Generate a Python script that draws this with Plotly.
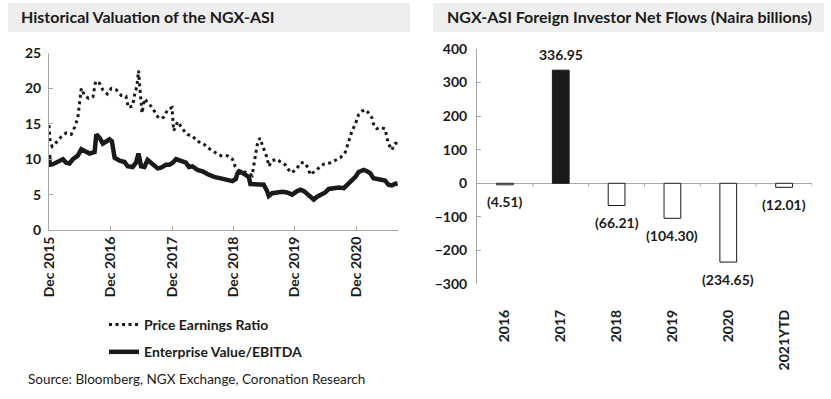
import plotly.graph_objects as go

# ---------------- Data ----------------
pe_dates = ["2015-12-01","2015-12-08","2015-12-20","2016-01-04","2016-02-13","2016-03-12","2016-04-11",
            "2016-05-01","2016-05-20","2016-06-10","2016-06-29","2016-07-23","2016-08-18","2016-09-03",
            "2016-09-27","2016-10-16","2016-11-11","2016-12-05","2017-01-04","2017-02-03","2017-03-02",
            "2017-03-16","2017-04-11","2017-04-21","2017-05-07","2017-05-16","2017-05-26","2017-06-06",
            "2017-06-20","2017-07-09","2017-07-29","2017-08-18","2017-09-07","2017-09-27","2017-10-16",
            "2017-11-05","2017-12-01","2017-12-11","2018-01-04","2018-02-03","2018-03-02","2018-04-01",
            "2018-05-01","2018-05-31","2018-07-15","2018-08-18","2018-09-17","2018-10-26","2018-11-25",
            "2018-12-11","2018-12-25","2019-01-24","2019-03-02","2019-03-22","2019-04-05","2019-04-21",
            "2019-05-07","2019-05-20","2019-06-06","2019-06-19","2019-06-29","2019-07-19","2019-08-18",
            "2019-09-07","2019-10-06","2019-11-05","2019-11-25","2019-12-11","2020-01-04","2020-01-28",
            "2020-02-17","2020-03-02","2020-03-22","2020-04-21","2020-05-20","2020-06-29","2020-07-28",
            "2020-08-27","2020-09-26","2020-10-16","2020-11-05","2020-11-25","2020-12-14","2021-01-04",
            "2021-01-23","2021-02-12","2021-03-02","2021-03-12","2021-04-01","2021-04-21","2021-05-20",
            "2021-05-30","2021-06-09","2021-06-29","2021-07-18","2021-08-02"]
pe_values = [14.8,12.5,11.8,12.1,13.2,13.7,13.5,
             14.5,15.8,20.0,19.0,18.6,18.8,21.0,
             20.7,19.8,19.2,20.0,19.8,19.0,18.9,
             17.3,17.5,18.9,20.4,22.5,19.5,16.5,
             18.5,18.0,17.5,16.8,16.0,15.7,16.0,
             17.0,17.3,14.0,15.3,14.2,13.5,13.3,
             12.5,12.3,11.4,10.9,10.5,10.5,10.0,
             9.0,8.5,8.3,8.0,7.7,10.0,12.0,
             13.0,12.0,11.0,10.2,9.0,9.8,10.0,
             9.6,9.2,8.1,8.3,8.6,9.5,9.5,
             8.8,7.8,8.2,8.7,9.3,9.5,9.8,
             10.2,11.0,12.5,14.0,15.0,16.3,16.8,
             17.0,16.5,15.9,15.0,14.3,14.5,14.3,
             13.2,12.2,11.3,12.2,12.3]

ev_dates = ["2015-12-01","2015-12-06","2015-12-24","2016-01-23","2016-02-22","2016-03-12","2016-04-01",
            "2016-04-21","2016-05-20","2016-06-10","2016-06-29","2016-07-29","2016-08-28","2016-09-07",
            "2016-09-27","2016-10-16","2016-11-05","2016-11-25","2016-12-09","2016-12-25","2017-01-24",
            "2017-02-22","2017-03-12","2017-04-11","2017-05-01","2017-05-16","2017-05-31","2017-06-20",
            "2017-07-09","2017-07-29","2017-08-18","2017-09-07","2017-09-27","2017-10-26","2017-11-15",
            "2017-12-05","2017-12-25","2018-01-24","2018-02-22","2018-03-12","2018-04-01","2018-05-01",
            "2018-05-31","2018-06-29","2018-08-08","2018-09-17","2018-10-26","2018-11-25","2018-12-15",
            "2018-12-25","2019-01-14","2019-02-13","2019-03-02","2019-03-12","2019-04-01","2019-04-21",
            "2019-05-07","2019-05-30","2019-06-19","2019-06-29","2019-07-19","2019-08-18","2019-09-17",
            "2019-10-16","2019-11-15","2019-12-15","2020-01-04","2020-01-24","2020-03-02","2020-03-22",
            "2020-04-11","2020-05-10","2020-05-30","2020-06-19","2020-07-18","2020-08-18","2020-09-17",
            "2020-10-16","2020-11-05","2020-11-25","2020-12-14","2021-01-13","2021-02-02","2021-02-22",
            "2021-03-12","2021-04-11","2021-05-01","2021-05-20","2021-06-09","2021-06-29","2021-07-18",
            "2021-08-02"]
ev_values = [10.6,9.2,9.3,9.7,10.0,9.5,9.4,
             10.0,10.5,11.4,11.2,10.8,11.0,13.5,
             13.0,12.2,12.5,12.8,12.5,10.2,9.8,
             9.6,9.0,8.9,9.5,10.8,9.0,8.9,
             9.9,9.5,9.2,8.7,8.8,9.2,9.2,
             9.5,10.0,9.8,9.5,8.9,9.0,8.5,
             8.3,7.9,7.5,7.3,7.0,6.9,7.2,
             8.0,8.2,7.8,7.5,6.5,6.5,6.5,
             6.5,6.4,5.5,4.8,5.2,5.3,5.4,
             5.3,5.0,5.5,5.7,5.5,4.8,4.3,
             4.7,5.0,5.3,5.8,5.9,6.0,5.9,
             6.5,7.0,7.5,8.2,8.5,8.3,8.0,
             7.3,7.2,7.0,7.0,6.4,6.3,6.5,
             6.6]

flow_categories = ["2016", "2017", "2018", "2019", "2020", "2021YTD"]
flow_values = [-4.51, 336.95, -66.21, -104.30, -234.65, -12.01]

left_title = "Historical Valuation of the NGX-ASI"
right_title = "NGX-ASI Foreign Investor Net Flows (Naira billions)"
source_text = "Source: Bloomberg, NGX Exchange, Coronation Research"

# ---------------- Figure ----------------
W, H = 831, 399
FONT = "Lato, 'Open Sans', sans-serif"
DARK = "#1a1a1a"
AXIS = "#a6a6a6"

def px_x(p):
    return p / W

def px_y(p):
    return 1 - p / H

fig = go.Figure()

fig.add_trace(go.Scatter(
    x=pe_dates, y=pe_values, mode="lines", name="Price Earnings Ratio",
    line=dict(color=DARK, width=3, dash="3px,3.5px"),
    xaxis="x", yaxis="y", legendgroup="a"))
fig.add_trace(go.Scatter(
    x=ev_dates, y=ev_values, mode="lines", name="Enterprise Value/EBITDA",
    line=dict(color=DARK, width=4.5),
    xaxis="x", yaxis="y", legendgroup="b"))

bar_idx = list(range(len(flow_categories)))
bar_colors = [DARK if v > 0 else "white" for v in flow_values]
fig.add_trace(go.Bar(
    x=bar_idx, y=flow_values, width=0.3,
    marker=dict(color=bar_colors, line=dict(color=DARK, width=1)),
    xaxis="x2", yaxis="y2", showlegend=False))

def fmt(v):
    return f"{v:.2f}" if v >= 0 else f"({abs(v):.2f})"

annotations = []
for i, v in zip(bar_idx, flow_values):
    annotations.append(dict(
        x=i, y=v, xref="x2", yref="y2", text=fmt(v), showarrow=False,
        yshift=16 if v > 0 else -17, yanchor="middle",
        font=dict(family=FONT, size=14, color=DARK, weight="bold")))

# titles
annotations.append(dict(x=px_x(19), y=px_y(17), xref="paper", yref="paper", text=left_title,
                        showarrow=False, xanchor="left", yanchor="middle",
                        font=dict(family=FONT, size=16, color=DARK, weight="bold")))
annotations.append(dict(x=px_x(445), y=px_y(17), xref="paper", yref="paper", text=right_title,
                        showarrow=False, xanchor="left", yanchor="middle",
                        font=dict(family=FONT, size=16, color=DARK, weight="bold")))
annotations.append(dict(x=px_x(26), y=px_y(379), xref="paper", yref="paper", text=source_text,
                        showarrow=False, xanchor="left", yanchor="middle",
                        font=dict(family=FONT, size=13.5, color=DARK)))

shapes = [
    dict(type="rect", xref="paper", yref="paper", x0=px_x(8), x1=px_x(410), y0=px_y(32), y1=px_y(3),
         fillcolor="#eeeeee", line=dict(width=0), layer="below"),
    dict(type="rect", xref="paper", yref="paper", x0=px_x(433), x1=px_x(824), y0=px_y(32), y1=px_y(3),
         fillcolor="#eeeeee", line=dict(width=0), layer="below"),
]
# category boundary ticks on the zero line
for i in bar_idx:
    shapes.append(dict(type="line", xref="x2", yref="y2", x0=i + 0.5, x1=i + 0.5, y0=0, y1=-10,
                       line=dict(color=AXIS, width=1)))

tickfont = dict(family=FONT, size=14, color=DARK, weight="bold")

fig.update_layout(
    template="none",
    width=W, height=H, margin=dict(l=0, r=0, t=0, b=0, pad=0), autosize=False,
    paper_bgcolor="white", plot_bgcolor="white",
    font=dict(family=FONT, color=DARK),
    xaxis=dict(domain=[px_x(49), px_x(398)], anchor="y", type="date", automargin=False,
               range=["2015-12-01", "2021-08-05"],
               tick0="2015-12-01", dtick="M12", tickformat="%b %Y", tickangle=-90,
               ticks="inside", ticklen=4, tickcolor=AXIS,
               showline=True, linecolor=AXIS, linewidth=1, showgrid=False, zeroline=False,
               tickfont=tickfont),
    yaxis=dict(domain=[px_y(230), px_y(53)], anchor="x", range=[0, 25], dtick=5, automargin=False,
               ticks="inside", ticklen=4, tickcolor=AXIS,
               showline=True, linecolor=AXIS, linewidth=1, showgrid=False, zeroline=False,
               ticklabelstandoff=4,
               tickfont=tickfont),
    xaxis2=dict(domain=[px_x(477), px_x(812)], anchor="y2", automargin=False,
                range=[-0.5, len(flow_categories) - 0.5],
                tickmode="array", tickvals=bar_idx, ticktext=flow_categories,
                tickangle=-90, ticks="", showline=False, showgrid=False, zeroline=False,
                ticklabelstandoff=22,
                tickfont=tickfont),
    yaxis2=dict(domain=[px_y(284), px_y(49)], anchor="x2", range=[-300, 400], dtick=100,
                automargin=False,
                ticks="inside", ticklen=4, tickcolor=AXIS,
                showline=True, linecolor=AXIS, linewidth=1, showgrid=False,
                zeroline=True, zerolinecolor=AXIS, zerolinewidth=1,
                ticklabelstandoff=6,
                tickfont=tickfont),
    showlegend=True,
    legend=dict(x=px_x(104), y=px_y(309), xanchor="left", yanchor="top",
                orientation="v", traceorder="grouped", tracegroupgap=6,
                bgcolor="rgba(0,0,0,0)", borderwidth=0,
                font=dict(family=FONT, size=14, color=DARK, weight="bold")),
    annotations=annotations,
    shapes=shapes,
)

fig.write_html("out.html", config={"displayModeBar": False},
               post_script="document.body.style.margin='0';document.body.style.overflow='hidden';")
